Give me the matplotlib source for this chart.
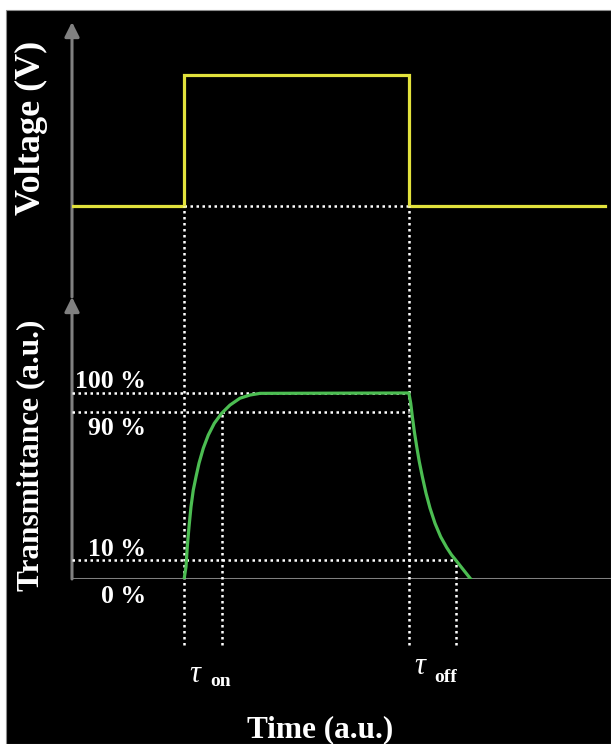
import matplotlib
matplotlib.use("Agg")
import matplotlib.pyplot as plt
from matplotlib.patches import Rectangle

# ---- data (time in a.u., voltage normalised, transmittance in %) ----
time_v = [0.0, 2.08, 2.08, 6.25, 6.25, 9.89]
voltage = [0, 0, 1, 1, 0, 0]

rise_t = [2.08, 2.115, 2.139, 2.171, 2.208, 2.250, 2.301, 2.356, 2.436,
          2.529, 2.640, 2.777, 2.931, 3.117, 3.302, 3.488, 6.25]
rise_T = [0, 6.6, 17.4, 28.1, 38.9, 47.8, 55.0, 62.2, 70.3,
          77.4, 83.7, 89.1, 93.5, 97.2, 98.9, 99.8, 100]

fall_t = [6.25, 6.284, 6.314, 6.351, 6.395, 6.443, 6.499, 6.568, 6.642,
          6.735, 6.840, 6.952, 7.040, 7.124, 7.260, 7.397]
fall_T = [100, 94.5, 87.3, 79.3, 71.2, 63.1, 55.1, 46.1, 38.1,
          29.9, 22.7, 16.9, 13.0, 10.0, 5.0, 0]

levels = [100, 90, 10, 0]
level_labels = ["100 %", "90 %", "10 %", "0 %"]

t_on_start, t_on_end = 2.08, 2.78
t_off_start, t_off_end = 6.25, 7.12

# ---- style ----
W, H = 611, 744
GREY = "#808080"
YELLOW = "#e2e23c"
GREEN = "#4cbd52"
SERIF = "Liberation Serif"
DOT = dict(color="white", lw=1.8, dashes=(1.0, 1.4), dash_capstyle="butt")

fig = plt.figure(figsize=(W / 100, H / 100), dpi=100)
fig.patch.set_facecolor("white")
fig.add_artist(Rectangle((6 / W, 0), 1 - 6 / W, 734 / H, transform=fig.transFigure,
                         facecolor="black", edgecolor="#8c8c8c", lw=0.8, zorder=-10))

left, width = 72 / W, (W - 72) / W
ax_v = fig.add_axes([left, 447 / H, width, 275 / H])
ax_t = fig.add_axes([left, 165 / H, width, 282 / H])
for ax in (ax_v, ax_t):
    ax.set_facecolor("none")
    ax.set_xlim(0, 10)
    for s in ax.spines.values():
        s.set_visible(False)
    ax.set_xticks([])
    ax.set_yticks([])
    # vertical axis with arrow head
    ax.annotate("", xy=(0, 1), xytext=(0, 0), xycoords="axes fraction",
                arrowprops=dict(arrowstyle="-|>", color=GREY, lw=2.2,
                                mutation_scale=22, shrinkA=0, shrinkB=0))
ax_v.set_ylim(-0.695, 1.405)
ax_t.set_ylim(0, 151.6)

# time axis
ax_t.axhline(0, color=GREY, lw=2.2, zorder=2)

# ---- voltage pulse ----
ax_v.plot(time_v, voltage, color=YELLOW, lw=2.3, zorder=5, solid_joinstyle="miter")
ax_v.plot([t_on_start, t_off_start], [0, 0], **DOT, zorder=3)

# ---- transmittance response ----
ax_t.plot(rise_t + fall_t, rise_T + fall_T, color=GREEN, lw=2.3, zorder=5)

# horizontal reference levels
ax_t.plot([0, t_off_start], [100, 100], **DOT, zorder=3)
ax_t.plot([0, t_off_start], [90, 90], **DOT, zorder=3)
ax_t.plot([0, t_off_end], [10, 10], **DOT, zorder=3)

# vertical guides: from the voltage baseline down below the time axis
fig.canvas.draw()
v0_in_t = ax_t.transData.inverted().transform(ax_v.transData.transform((0, 0)))[1]
y_bottom = -35.5
for t, y_top in [(t_on_start, v0_in_t), (t_off_start, v0_in_t),
                 (t_on_end, 90), (t_off_end, 10)]:
    ax_t.plot([t, t], [y_bottom, y_top], **DOT, clip_on=False, zorder=3)

# level labels
label_y = [102.7, 77.4, 12.4, -12.9]
for lab, y in zip(level_labels, label_y):
    ax_t.text(1.37, y, lab, ha="right", va="baseline", color="white",
              fontsize=18.5, fontweight="bold", family=SERIF, clip_on=False)

# tau labels
ax_t.text(2.17, -55.4, "τ", ha="left", va="baseline", color="white",
          fontsize=22, style="italic", family=SERIF, clip_on=False)
ax_t.text(2.56, -57.5, "on", ha="left", va="baseline", color="white",
          fontsize=14, fontweight="bold", family=SERIF, clip_on=False)
ax_t.text(6.36, -51.1, "τ", ha="left", va="baseline", color="white",
          fontsize=22, style="italic", family=SERIF, clip_on=False)
ax_t.text(6.73, -55.4, "off", ha="left", va="baseline", color="white",
          fontsize=14, fontweight="bold", family=SERIF, clip_on=False)

# axis titles
ax_t.text(4.6, -84.9, "Time (a.u.)", ha="center", va="baseline", color="white",
          fontsize=22.5, fontweight="bold", family=SERIF, clip_on=False)
fig.text(31 / W, 1 - 128 / H, "Voltage (V)", rotation=90, ha="center", va="center",
         color="white", fontsize=26, fontweight="bold", family=SERIF)
fig.text(31 / W, 1 - 455 / H, "Transmittance (a.u.)", rotation=90, ha="center",
         va="center", color="white", fontsize=22.5, fontweight="bold", family=SERIF)

fig.savefig("out.png", dpi=100, facecolor=fig.get_facecolor())
